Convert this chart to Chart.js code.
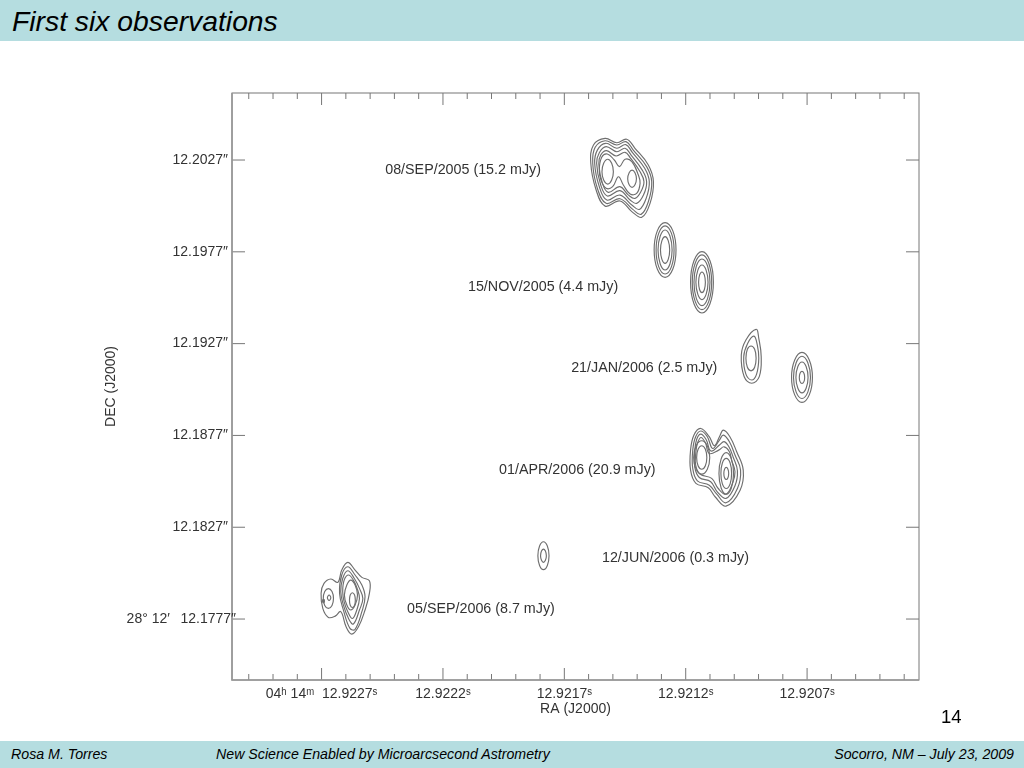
<!DOCTYPE html>
<html>
<head>
<meta charset="utf-8">
<title>First six observations</title>
<script src="https://cdn.jsdelivr.net/npm/chart.js@4"></script>
<style>
    html, body { margin: 0; padding: 0; background: #fff; width: 1024px; height: 768px; overflow: hidden; }
    body { font-family: "Liberation Sans", Arial, sans-serif; position: relative; }
    #header { position: absolute; left: 0; top: 0; width: 1024px; height: 41px; background: #b5dde0; }
    #header span { position: absolute; left: 12px; top: 5px; font-size: 28.3px; font-style: italic; color: #000; white-space: nowrap; }
    #footer { position: absolute; left: 0; top: 741px; width: 1024px; height: 27px; background: #b5dde0; font-size: 14.2px; font-style: italic; color: #000; line-height: 27px; }
    #footer span { position: absolute; top: 0; white-space: nowrap; }
    #pageNo { position: absolute; left: 941px; top: 706px; font-size: 18.5px; color: #000; }
    #chart { position: absolute; left: 0; top: 0; }
</style>
</head>
<body>
<canvas id="chart" width="1024" height="768"></canvas>
<div id="header"><span>First six observations</span></div>
<div id="pageNo">14</div>
<div id="footer">
    <span style="left:11px">Rosa M. Torres</span>
    <span style="left:216px">New Science Enabled by Microarcsecond Astrometry</span>
    <span style="right:10px">Socorro, NM – July 23, 2009</span>
</div>
<script>
// RA is in units of 0.0001s after 12.92s, DEC in units of 0.001" after 12.17"
const raRange = [2.39, 30.69];
const decRange = [4.38, 36.35];
const raMajorTicks = [27, 22, 17, 12, 7];
const raMinorTicks = [30, 29, 28, 26, 25, 24, 23, 21, 20, 19, 18, 16, 15, 14, 13, 11, 10, 9, 8, 6, 5, 4, 3];
const decMajorTicks = [32.7, 27.7, 22.7, 17.7, 12.7, 7.7];
const raTickLabels = ['04ʰ 14ᵐ  12.9227ˢ', '12.9222ˢ', '12.9217ˢ', '12.9212ˢ', '12.9207ˢ'];
const decTickLabels = ['12.2027″', '12.1977″', '12.1927″', '12.1877″', '12.1827″', '28° 12′ \u2009 12.1777″'];

// Epoch labels
const epochNames = ['08/SEP/2005 (15.2 mJy)', '15/NOV/2005 (4.4 mJy)', '21/JAN/2006 (2.5 mJy)', '01/APR/2006 (20.9 mJy)', '12/JUN/2006 (0.3 mJy)', '05/SEP/2006 (8.7 mJy)'];
const epochLabelRa = [24.38, 20.97, 16.72, 19.69, 15.45, 23.48];
const epochLabelDec = [32.16, 25.79, 21.38, 15.82, 11.03, 8.25];

// Contours, [RA, DEC] going round each loop
const sep2005Contours = [
    [[15.91,32.52],[15.80,33.52],[15.32,33.88],[14.84,33.64],[14.43,33.83],[14.09,33.34],[13.54,32.43],[13.33,31.52],[13.47,30.34],[13.81,29.58],[14.22,29.89],[14.71,30.47],[15.32,30.19],[15.69,31.07]],
    [[15.83,32.52],[15.73,33.39],[15.32,33.75],[14.84,33.52],[14.46,33.70],[14.16,33.24],[13.61,32.34],[13.40,31.52],[13.54,30.43],[13.84,29.74],[14.18,30.01],[14.71,30.59],[15.28,30.34],[15.64,31.16]],
    [[15.75,32.52],[15.64,33.24],[15.30,33.61],[14.84,33.34],[14.47,33.54],[14.20,33.12],[13.69,32.25],[13.50,31.52],[13.63,30.61],[13.91,30.01],[14.22,30.25],[14.71,30.79],[15.25,30.52],[15.56,31.25]],
    [[15.67,32.52],[15.56,33.10],[15.28,33.43],[14.84,33.15],[14.50,33.34],[14.25,32.97],[13.79,32.15],[13.61,31.52],[13.74,30.79],[14.02,30.34],[14.29,30.52],[14.71,31.03],[15.23,30.74],[15.50,31.34]],
    [[15.58,32.48],[15.50,32.97],[15.26,33.21],[14.87,32.92],[14.50,33.12],[14.29,32.83],[13.88,32.06],[13.72,31.52],[13.85,30.97],[14.09,30.61],[14.36,30.79],[14.71,31.25],[15.19,30.94],[15.43,31.43]],
    [[15.56,32.18],[15.46,32.85],[15.23,33.03],[14.94,32.70],[14.73,32.34],[14.50,32.74],[14.22,32.61],[13.95,31.88],[13.88,31.43],[14.02,30.88],[14.29,30.85],[14.57,31.34],[14.77,31.79],[15.01,31.25],[15.28,31.16],[15.49,31.61]],
    [[15.21,32.74],[15.05,32.52],[14.98,32.06],[15.05,31.61],[15.21,31.39],[15.38,31.61],[15.45,32.06],[15.38,32.52]],
    [[14.21,32.15],[14.09,32.01],[14.03,31.68],[14.09,31.35],[14.21,31.21],[14.33,31.35],[14.39,31.68],[14.33,32.01]]
];

const nov2005Contours = [
    [[12.85,29.29],[12.53,28.84],[12.40,27.80],[12.53,26.76],[12.85,26.31],[13.17,26.76],[13.30,27.80],[13.17,28.84]],
    [[12.85,29.11],[12.59,28.72],[12.48,27.80],[12.59,26.88],[12.85,26.49],[13.11,26.88],[13.22,27.80],[13.11,28.72]],
    [[12.85,28.89],[12.65,28.56],[12.56,27.80],[12.65,27.04],[12.85,26.71],[13.05,27.04],[13.14,27.80],[13.05,28.56]],
    [[12.85,28.53],[12.72,28.31],[12.66,27.80],[12.72,27.29],[12.85,27.07],[12.98,27.29],[13.04,27.80],[12.98,28.31]],
    [[11.33,27.71],[11.00,27.21],[10.86,26.04],[11.00,24.87],[11.33,24.37],[11.66,24.87],[11.80,26.04],[11.66,27.21]],
    [[11.33,27.53],[11.05,27.08],[10.93,26.04],[11.05,25.00],[11.33,24.55],[11.61,25.00],[11.73,26.04],[11.61,27.08]],
    [[11.33,27.31],[11.10,26.93],[11.00,26.04],[11.10,25.15],[11.33,24.77],[11.56,25.15],[11.66,26.04],[11.56,26.93]],
    [[11.33,26.98],[11.16,26.70],[11.08,26.04],[11.16,25.38],[11.33,25.10],[11.50,25.38],[11.58,26.04],[11.50,26.70]],
    [[11.33,26.60],[11.23,26.43],[11.19,26.04],[11.23,25.65],[11.33,25.48],[11.43,25.65],[11.47,26.04],[11.43,26.43]]
];

const jan2006Contours = [
    [[9.10,23.48],[8.99,22.99],[8.89,21.99],[8.97,20.90],[9.28,20.54],[9.59,20.90],[9.71,22.08],[9.52,22.90]],
    [[9.19,23.11],[9.05,22.62],[8.99,21.90],[9.08,21.04],[9.28,20.72],[9.52,21.04],[9.61,21.99],[9.45,22.71]],
    [[9.31,22.57],[9.16,22.39],[9.10,21.90],[9.16,21.41],[9.31,21.22],[9.46,21.41],[9.52,21.90],[9.46,22.39]],
    [[7.21,22.22],[6.91,21.81],[6.78,20.86],[6.91,19.91],[7.21,19.50],[7.51,19.91],[7.64,20.86],[7.51,21.81]],
    [[7.21,22.01],[6.97,21.66],[6.86,20.86],[6.97,20.06],[7.21,19.71],[7.45,20.06],[7.56,20.86],[7.45,21.66]],
    [[7.21,21.70],[7.04,21.45],[6.96,20.86],[7.04,20.27],[7.21,20.02],[7.38,20.27],[7.46,20.86],[7.38,21.45]],
    [[7.21,21.19],[7.13,21.09],[7.10,20.86],[7.13,20.63],[7.21,20.53],[7.29,20.63],[7.32,20.86],[7.29,21.09]]
];

const apr2006Contours = [
    [[11.38,18.08],[11.03,17.63],[10.82,17.14],[10.61,17.63],[10.45,17.99],[10.18,17.63],[9.90,16.81],[9.63,15.81],[9.76,14.72],[10.34,13.85],[10.79,14.36],[11.07,14.85],[11.58,15.09],[11.80,15.81],[11.80,16.90],[11.66,17.72]],
    [[11.38,17.94],[11.11,17.63],[10.89,16.99],[10.61,17.45],[10.45,17.72],[10.20,17.36],[9.97,16.63],[9.74,15.81],[9.87,14.81],[10.34,14.03],[10.72,14.50],[11.03,14.99],[11.52,15.23],[11.71,15.90],[11.71,16.90],[11.59,17.63]],
    [[11.38,17.77],[11.16,17.48],[10.96,16.85],[10.61,17.18],[10.42,17.36],[10.22,17.08],[10.04,16.50],[9.87,15.78],[9.97,14.96],[10.34,14.27],[10.70,14.63],[10.97,15.18],[11.44,15.41],[11.63,15.99],[11.63,16.81],[11.55,17.48]],
    [[11.37,17.59],[11.19,17.30],[11.03,16.72],[10.64,16.90],[10.42,17.08],[10.20,16.81],[10.11,16.36],[9.97,15.72],[10.07,15.09],[10.34,14.50],[10.66,14.81],[10.93,15.36],[11.41,15.60],[11.59,16.09],[11.58,16.81],[11.51,17.30]],
    [[11.34,17.41],[11.11,17.14],[11.01,16.50],[11.11,15.86],[11.34,15.59],[11.57,15.86],[11.67,16.50],[11.57,17.14]],
    [[11.34,17.14],[11.19,16.95],[11.13,16.50],[11.19,16.05],[11.34,15.86],[11.49,16.05],[11.55,16.50],[11.49,16.95]],
    [[10.33,16.76],[10.12,16.42],[10.03,15.63],[10.12,14.84],[10.33,14.50],[10.54,14.84],[10.63,15.63],[10.54,16.42]],
    [[10.33,16.45],[10.17,16.20],[10.11,15.63],[10.17,15.06],[10.33,14.81],[10.49,15.06],[10.55,15.63],[10.49,16.20]],
    [[10.33,15.96],[10.26,15.86],[10.23,15.63],[10.26,15.40],[10.33,15.30],[10.40,15.40],[10.43,15.63],[10.40,15.86]]
];

const jun2006Contours = [
    [[17.86,11.91],[17.70,11.68],[17.63,11.15],[17.70,10.62],[17.86,10.39],[18.02,10.62],[18.09,11.15],[18.02,11.68]],
    [[17.86,11.51],[17.78,11.40],[17.74,11.15],[17.78,10.90],[17.86,10.79],[17.94,10.90],[17.98,11.15],[17.94,11.40]]
];

const sep2006Contours = [
    [[25.92,10.79],[25.62,10.37],[25.34,9.97],[25.03,9.79],[25.03,9.10],[25.21,8.19],[25.48,7.28],[25.76,6.88],[25.99,7.28],[26.21,8.10],[26.44,7.86],[26.72,7.79],[26.95,8.28],[27.02,9.10],[26.90,9.64],[26.62,9.88],[26.33,9.70],[26.17,10.37]],
    [[25.92,10.55],[25.62,10.10],[25.34,9.55],[25.21,8.92],[25.34,8.10],[25.62,7.14],[25.83,7.19],[26.10,8.19],[26.26,9.10],[26.17,10.10]],
    [[25.92,10.33],[25.65,9.91],[25.44,9.37],[25.30,8.82],[25.44,8.19],[25.69,7.43],[25.89,7.73],[26.10,8.46],[26.21,9.19],[26.13,9.91]],
    [[25.89,10.10],[25.69,9.82],[25.52,9.31],[25.44,8.82],[25.55,8.19],[25.73,7.73],[25.92,8.10],[26.07,8.64],[26.13,9.19],[26.07,9.82]],
    [[25.80,9.82],[25.62,9.55],[25.52,9.01],[25.62,8.46],[25.80,8.19],[25.96,8.46],[26.06,9.01],[25.96,9.55]],
    [[25.73,9.13],[25.64,9.01],[25.61,8.73],[25.64,8.45],[25.73,8.33],[25.82,8.45],[25.85,8.73],[25.82,9.01]],
    [[26.72,9.36],[26.57,9.20],[26.51,8.82],[26.57,8.44],[26.72,8.28],[26.87,8.44],[26.93,8.82],[26.87,9.20]],
    [[26.69,9.01],[26.62,8.86],[26.69,8.71],[26.76,8.86]],
    [[26.92,8.78],[26.88,8.68],[26.92,8.58],[26.96,8.68]]
];

const allContours = [sep2005Contours, nov2005Contours, jan2006Contours, apr2006Contours, jun2006Contours, sep2006Contours].flat();

const axisFont = { family: '"Liberation Sans", Arial, sans-serif', size: 14 };
const axisColor = '#777';
const textColor = '#333';

// Frame with inward ticks on all four sides, plus the epoch labels
const framePlugin = {
    id: 'frame',
    afterDraw(chart) {
        const { ctx, chartArea: area, scales: { x, y } } = chart;
        ctx.save();
        ctx.strokeStyle = axisColor;
        ctx.lineWidth = 1;
        raMajorTicks.forEach(v => drawRaTick(ctx, area, x.getPixelForValue(v), 12));
        raMinorTicks.forEach(v => drawRaTick(ctx, area, x.getPixelForValue(v), 6));
        decMajorTicks.forEach(v => {
            const py = y.getPixelForValue(v);
            ctx.beginPath();
            ctx.moveTo(area.left, py);
            ctx.lineTo(area.left + 13, py);
            ctx.moveTo(area.right, py);
            ctx.lineTo(area.right - 13, py);
            ctx.stroke();
        });
        ctx.strokeRect(area.left, area.top, area.right - area.left, area.bottom - area.top);
        // left and bottom edges are heavier in the picture
        ctx.strokeStyle = '#999';
        ctx.lineWidth = 1.6;
        ctx.beginPath();
        ctx.moveTo(area.left, area.top);
        ctx.lineTo(area.left, area.bottom);
        ctx.lineTo(area.right, area.bottom);
        ctx.stroke();

        ctx.fillStyle = textColor;
        ctx.font = '14.3px ' + axisFont.family;
        ctx.textAlign = 'left';
        ctx.textBaseline = 'middle';
        epochNames.forEach((name, i) => {
            ctx.fillText(name, x.getPixelForValue(epochLabelRa[i]), y.getPixelForValue(epochLabelDec[i]));
        });

        // the bottom DEC label runs up to the axis, past the others
        const lastDec = decMajorTicks.length - 1;
        ctx.font = '14px ' + axisFont.family;
        ctx.textAlign = 'right';
        ctx.fillText(decTickLabels[lastDec], area.left + 4, y.getPixelForValue(decMajorTicks[lastDec]));
        ctx.restore();
    }
};

function drawRaTick(ctx, area, px, len) {
    ctx.beginPath();
    ctx.moveTo(px, area.bottom);
    ctx.lineTo(px, area.bottom - len);
    ctx.moveTo(px, area.top);
    ctx.lineTo(px, area.top + len);
    ctx.stroke();
}

new Chart(document.getElementById('chart').getContext('2d'), {
    type: 'scatter',
    data: {
        // wrap each loop one point past both ends and hide the two end segments, so the spline closes without a seam
        datasets: allContours.map(loop => ({
            data: [loop[loop.length - 1], ...loop, loop[0], loop[1]],
            showLine: true,
            borderColor: '#6e6e6e',
            borderWidth: 1.15,
            tension: 0.4,
            pointRadius: 0,
            fill: false,
            segment: {
                borderColor: ctx => (ctx.p0DataIndex === 0 || ctx.p1DataIndex === loop.length + 2) ? 'transparent' : undefined
            }
        }))
    },
    options: {
        responsive: false,
        animation: false,
        events: [],
        layout: { padding: { left: 100, top: 93, right: 105, bottom: 50 } },
        plugins: { legend: { display: false }, tooltip: { enabled: false } },
        scales: {
            x: {
                type: 'linear',
                reverse: true,
                min: raRange[0],
                max: raRange[1],
                grid: { display: false, drawTicks: false },
                border: { display: false },
                afterBuildTicks(scale) { scale.ticks = raMajorTicks.map(value => ({ value })); },
                afterFit(scale) { scale.height = 38; },
                ticks: {
                    color: textColor,
                    font: axisFont,
                    padding: 6,
                    maxRotation: 0,
                    autoSkip: false,
                    callback: (value, index) => raTickLabels[index]
                },
                title: { display: true, text: 'RA (J2000)', color: textColor, font: axisFont, padding: 0 }
            },
            y: {
                type: 'linear',
                min: decRange[0],
                max: decRange[1],
                grid: { display: false, drawTicks: false },
                border: { display: false },
                afterBuildTicks(scale) { scale.ticks = decMajorTicks.map(value => ({ value })); },
                afterFit(scale) { scale.width = 132; },
                ticks: {
                    color: textColor,
                    font: axisFont,
                    padding: 4,
                    autoSkip: false,
                    // last label is drawn by the frame plugin
                    callback: (value, index) => index < decMajorTicks.length - 1 ? decTickLabels[index] : ''
                },
                title: { display: true, text: 'DEC (J2000)', color: textColor, font: axisFont, padding: 3 }
            }
        }
    },
    plugins: [framePlugin]
});
</script>
</body>
</html>
